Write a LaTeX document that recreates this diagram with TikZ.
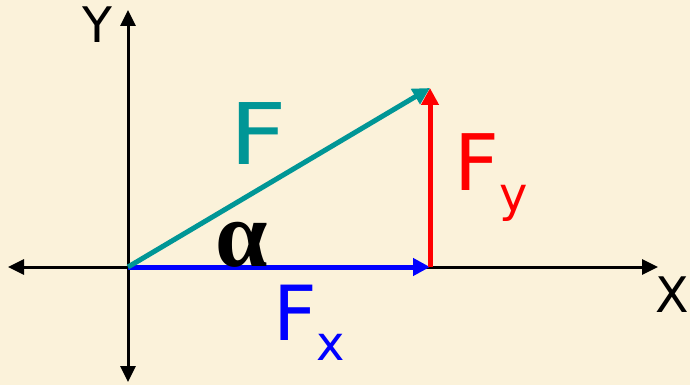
\documentclass[tikz,border=0pt]{standalone}
\usepackage{fontspec}
\setmainfont{DejaVu Sans}
\newfontfamily\alphafont{Liberation Serif}
\usepackage{tikz}
\usetikzlibrary{arrows.meta}
\definecolor{parchment}{RGB}{251,242,218}
\definecolor{forceteal}{RGB}{0,150,150}
\definecolor{forcered}{RGB}{255,0,0}
\definecolor{forceblue}{RGB}{0,0,255}

\begin{document}
\begin{tikzpicture}[
  x=1pt, y=-1pt,
  axis/.style={{Triangle[length=16pt,width=15pt]}-{Triangle[length=16pt,width=15pt]}, line width=3pt, black},
  force/.style={-{Triangle[length=17pt,width=17pt]}, line width=5pt},
  every node/.style={inner sep=0pt}]

% ---- page and background -------------------------------------------------
\useasboundingbox (0,0) rectangle (690,385);
\fill[parchment] (0,0) rectangle (690,385);

% ---- the points of the triangle ------------------------------------------
\coordinate (O)  at (128,267);   % origin
\coordinate (P)  at (430, 88);   % head of F
\coordinate (Q)  at (430,267);   % foot of F_y
\coordinate (xl) at (  8,267);
\coordinate (xr) at (658,267);
\coordinate (yt) at (128, 10);
\coordinate (yb) at (128,382);

% ---- the axes ------------------------------------------------------------
\draw[axis] (xl)--(xr);
\draw[axis] (yb)--(yt);
\node[font=\fontsize{49}{49}\selectfont] (ylab) at (97,25)  {Y};
\node[font=\fontsize{49}{49}\selectfont] (xlab) at (672,295) {X};

% ---- the force and its components ----------------------------------------
\draw[force, forceblue] (O)--(Q);
\draw[force, forcered]  (Q)--(P);
\draw[force, forceteal] (O)--(P);

\node[font=\fontsize{85}{85}\selectfont, text=forceteal] (flab) at (258,134) {\scalebox{1.18}[1]{F}};
\node[font=\fontsize{78}{78}\selectfont, text=forcered, anchor=base west] (fylab) at (454,190)
     {F\raisebox{-21pt}{\fontsize{48}{48}\selectfont y}};
\node[font=\fontsize{76}{76}\selectfont, text=forceblue, anchor=base west] (fxlab) at (273,340)
     {F\raisebox{-20pt}{\fontsize{48}{48}\selectfont x}};
\node[font=\alphafont\bfseries\fontsize{94}{94}\selectfont] (alab) at (242,245) {α};

\end{tikzpicture}
\end{document}
